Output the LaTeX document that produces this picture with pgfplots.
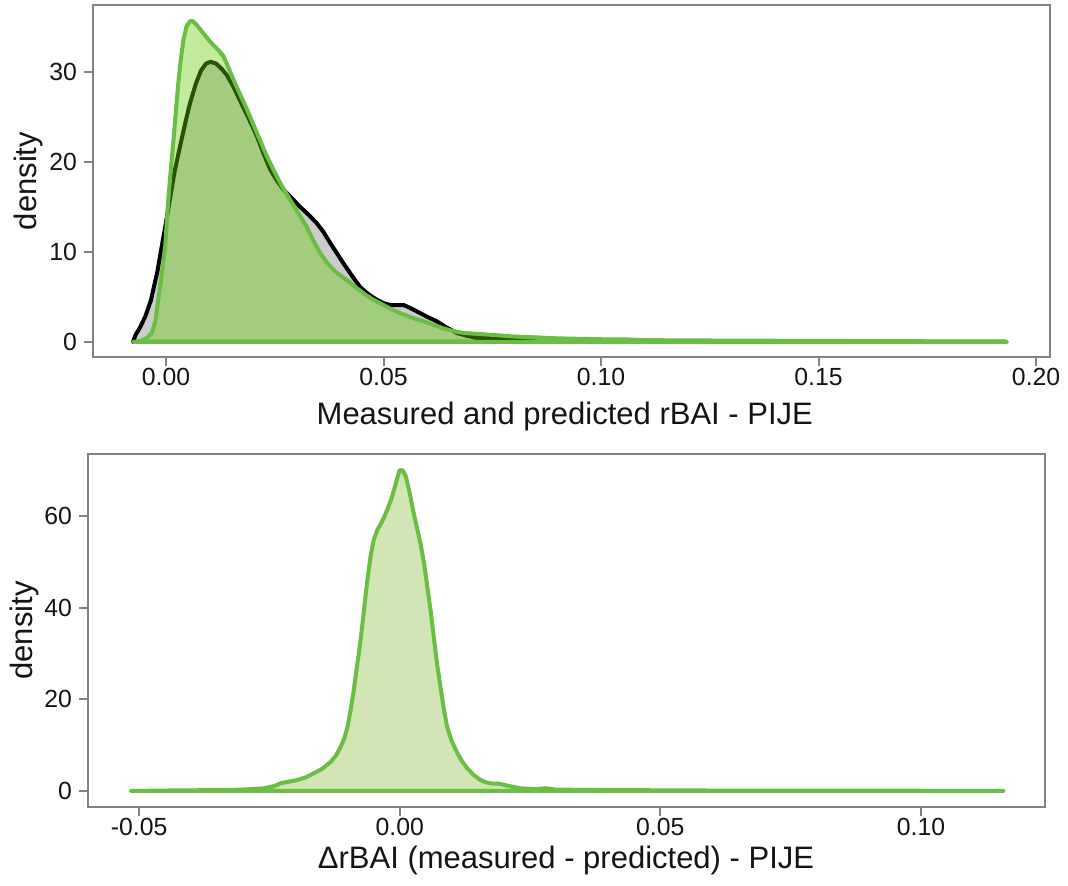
\documentclass[border=0pt]{standalone}
\usepackage{pgfplots}
\pgfplotsset{compat=1.18}
\usepackage{fontspec}
\setmainfont{Liberation Sans}
\definecolor{gline}{RGB}{106,190,67}
\definecolor{gfill}{RGB}{102,204,10}
\definecolor{gfillb}{RGB}{124,181,44}
\definecolor{gryfill}{RGB}{204,204,204}
\definecolor{axgray}{RGB}{130,130,130}
\definecolor{txt}{RGB}{20,20,20}

\pgfplotsset{
  mystyle/.style={
    scale only axis,
    anchor=south west,
    axis line style={axgray, line width=1pt},
    tick style={axgray, line width=1pt},
    tick align=outside,
    major tick length=4.5pt,
    xtick pos=bottom, ytick pos=left,
    tick label style={font=\fontsize{12.4}{14}\selectfont, text=txt},
    xticklabel style={inner sep=1pt},
    label style={font=\fontsize{15.5}{18}\selectfont, text=txt, inner sep=0pt},
    /pgf/number format/assume math mode=true,
    axis on top=false,
    clip=false,
  }
}

\begin{document}
\begin{tikzpicture}
\useasboundingbox (0,0) rectangle (534pt,-443pt);

% ---------- top panel ----------
\begin{axis}[mystyle,
  at={(46.5pt,-178.5pt)},
  width=478.5pt, height=176pt,
  xmin=-0.0168, xmax=0.2032, ymin=-1.67, ymax=37.4,
  xtick={0,0.05,0.10,0.15,0.20},
  xticklabel style={/pgf/number format/.cd, fixed, fixed zerofill, precision=2},
  ytick={0,10,20,30},
  xlabel={Measured and predicted rBAI - PIJE},
  ylabel={density},
  ylabel style={at={(axis description cs:-0.067,0.5)}, anchor=center},
  xlabel style={at={(axis description cs:0.493,-0.168)}, anchor=center},
]
\addplot[draw=black, line width=2pt, fill=gryfill, line join=round] coordinates {
(-0.0076,0) (-0.0070,0.8) (-0.0060,1.6) (-0.0048,2.8) (-0.0035,4.6) (-0.0020,7.8)
(-0.0010,10.6) (0.0000,13.3) (0.0010,16.2) (0.0020,19.0) (0.0032,21.7) (0.0045,24.5)
(0.0055,26.5) (0.0068,28.6) (0.0080,30.1) (0.0092,30.9) (0.0102,31.1) (0.0115,30.9)
(0.0128,30.3) (0.0140,29.6) (0.0155,28.3) (0.0170,26.8) (0.0190,24.8) (0.0209,22.8)
(0.0225,20.8) (0.0240,19.1) (0.0255,17.9) (0.0270,16.9) (0.0290,15.9) (0.0308,15.0)
(0.0328,14.1) (0.0346,13.2) (0.0362,12.2) (0.0377,11.0) (0.0392,9.9) (0.0408,8.7)
(0.0428,7.3) (0.0446,6.1) (0.0465,5.3) (0.0484,4.7) (0.0500,4.3) (0.0515,4.1)
(0.0530,4.1) (0.0546,4.1) (0.0560,3.8) (0.0576,3.4) (0.0600,2.8) (0.0622,2.3)
(0.0645,1.6) (0.0668,1.0) (0.0690,0.7) (0.0710,0.5) (0.0750,0.4) (0.0800,0.35)
(0.0830,0.45) (0.0860,0.45) (0.0890,0.2) (0.0920,0.05) (0.1000,0.02) (0.1930,0.0)
} \closedcycle;
\addplot[draw=gline, line width=2pt, fill=gfill, fill opacity=0.4, line join=round] coordinates {
(-0.0076,0) (-0.0060,0.1) (-0.0045,0.4) (-0.0033,1.0) (-0.0025,2.2) (-0.0018,4.7)
(-0.0010,7.5) (-0.0002,10.6) (0.0005,15.8) (0.0011,19.2) (0.0017,22.4) (0.0023,25.8)
(0.0028,28.7) (0.0034,31.4) (0.0040,33.6) (0.0047,35.0) (0.0055,35.6) (0.0062,35.6)
(0.0070,35.2) (0.0080,34.6) (0.0090,34.0) (0.0100,33.4) (0.0112,32.8) (0.0122,32.3)
(0.0132,31.7) (0.0143,30.5) (0.0155,29.1) (0.0170,27.5) (0.0186,25.8) (0.0200,24.2)
(0.0216,22.4) (0.0230,20.8) (0.0247,19.1) (0.0265,17.4) (0.0285,15.8) (0.0305,14.2)
(0.0323,12.8) (0.0338,11.3) (0.0354,9.9) (0.0370,8.8) (0.0385,8.0) (0.0400,7.4)
(0.0415,6.9) (0.0435,6.1) (0.0454,5.4) (0.0472,4.8) (0.0492,4.3) (0.0515,3.7)
(0.0538,3.2) (0.0565,2.7) (0.0592,2.3) (0.0615,1.9) (0.0638,1.5) (0.0660,1.2)
(0.0684,1.0) (0.0715,0.9) (0.0745,0.8) (0.0800,0.6) (0.0900,0.4) (0.1000,0.3)
(0.1050,0.3) (0.1100,0.2) (0.1300,0.15) (0.1600,0.1) (0.1930,0.05) (0.1933,0)
} \closedcycle;
\end{axis}

% ---------- bottom panel ----------
\begin{axis}[mystyle,
  at={(44pt,-403.5pt)},
  width=478.5pt, height=176.5pt,
  xmin=-0.0598, xmax=0.1238, ymin=-3.5, ymax=73.6,
  xtick={-0.05,0,0.05,0.10},
  xticklabel style={/pgf/number format/.cd, fixed, fixed zerofill, precision=2},
  ytick={0,20,40,60},
  xlabel={ΔrBAI (measured - predicted) - PIJE},
  ylabel={density},
  ylabel style={at={(axis description cs:-0.066,0.5)}, anchor=center},
  xlabel style={at={(axis description cs:0.4995,-0.152)}, anchor=center},
]
\addplot[draw=gline, line width=2pt, fill=gfillb, fill opacity=0.35, line join=round] coordinates {
(-0.0516,0) (-0.0450,0.1) (-0.0400,0.15) (-0.0337,0.2) (-0.0300,0.3) (-0.0260,0.6)
(-0.0240,1.1) (-0.0228,1.7) (-0.0210,2.1) (-0.0196,2.4) (-0.0180,3.0) (-0.0164,3.9)
(-0.0148,4.9) (-0.0132,6.4) (-0.0122,7.8) (-0.0113,9.7) (-0.0106,11.6) (-0.0100,14.0)
(-0.0094,17.8) (-0.0088,22.1) (-0.0082,27.2) (-0.0075,33.0) (-0.0068,40.0) (-0.0062,46.1)
(-0.0056,51.2) (-0.0050,54.8) (-0.0043,57.0) (-0.0036,58.4) (-0.0030,59.8) (-0.0024,61.4)
(-0.0017,63.5) (-0.0011,65.7) (-0.0005,68.2) (0.0000,70.1) (0.0006,70.0) (0.0012,68.6)
(0.0020,64.6) (0.0027,60.6) (0.0034,57.0) (0.0040,54.0) (0.0047,49.5) (0.0053,44.6)
(0.0060,38.8) (0.0066,33.0) (0.0072,27.5) (0.0079,22.1) (0.0085,17.7) (0.0091,14.0)
(0.0100,10.8) (0.0111,8.2) (0.0120,6.4) (0.0130,4.9) (0.0142,3.5) (0.0155,2.4)
(0.0165,1.9) (0.0178,1.6) (0.0190,1.6) (0.0205,1.2) (0.0230,0.6) (0.0260,0.4)
(0.0280,0.6) (0.0300,0.3) (0.0400,0.2) (0.0600,0.1) (0.0800,0.1) (0.1000,0.05)
(0.1158,0.0)
} \closedcycle;
\end{axis}
\end{tikzpicture}
\end{document}
